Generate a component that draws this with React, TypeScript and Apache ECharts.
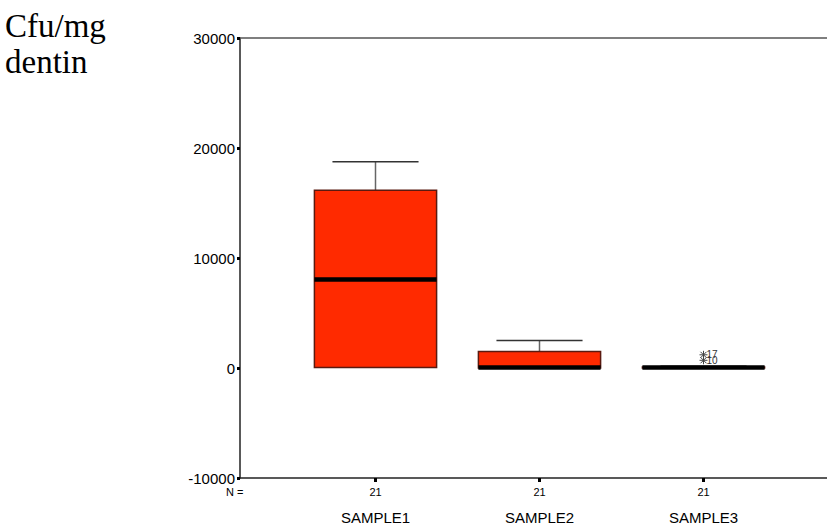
import React, { useEffect, useRef } from "react";
import * as echarts from "echarts";

const categories = ["SAMPLE1", "SAMPLE2", "SAMPLE3"];
const counts = [21, 21, 21];
// [min, q1, median, q3, max]
const boxStats = [
  [0, 50, 8050, 16150, 18750],
  [0, 0, 50, 1500, 2500],
  [0, 0, 50, 100, 150],
];
const outlierCat = [2, 2];
const outlierVal = [1200, 700];
const outlierLabel = ["17", "10"];
const yTicks = [-10000, 0, 10000, 20000, 30000];

export default function App() {
  const ref = useRef<HTMLDivElement>(null);
  useEffect(() => {
    const chart = echarts.init(ref.current!, null, { renderer: "svg" });
    const boxData = boxStats.map((s, i) => [i, ...s]);
    const outData = outlierVal.map((v, i) => [outlierCat[i], v, outlierLabel[i]]);
    const yMin = yTicks[0];
    const yMax = yTicks[yTicks.length - 1];
    const option: any = {
      animation: false,
      backgroundColor: "#fff",
      grid: [
        { left: 240, right: 0, top: 38, bottom: 49, containLabel: false },
        { left: 293.5, width: 492, top: 38, bottom: 49, containLabel: false },
      ],
      xAxis: [
        {
          gridIndex: 0, type: "value", position: "bottom", min: 0, max: 1,
          axisLine: { show: true, onZero: false, lineStyle: { color: "#222", width: 1.5 } },
          axisTick: { show: false }, axisLabel: { show: false }, splitLine: { show: false },
        },
        {
          gridIndex: 0, type: "value", position: "top", min: 0, max: 1,
          axisLine: { show: true, onZero: false, lineStyle: { color: "#555", width: 1.5 } },
          axisTick: { show: false }, axisLabel: { show: false }, splitLine: { show: false },
        },
        {
          gridIndex: 1, type: "category", position: "bottom", data: categories,
          axisLine: { show: false, onZero: false },
          axisTick: { show: true, alignWithLabel: true, length: 4, lineStyle: { color: "#000", width: 3 } },
          axisLabel: {
            margin: 8, fontSize: 11, color: "#000", fontFamily: "Arial, Liberation Sans",
            formatter: (_v: string, i: number) => String(counts[i]),
          },
        },
        {
          gridIndex: 1, type: "category", position: "bottom", data: categories,
          axisLine: { show: false, onZero: false }, axisTick: { show: false },
          axisLabel: { margin: 32, fontSize: 15, color: "#000", fontFamily: "Arial, Liberation Sans" },
        },
      ],
      yAxis: [
        {
          gridIndex: 0, type: "value", min: yMin, max: yMax, interval: 10000,
          axisLine: { show: true, onZero: false, lineStyle: { color: "#222", width: 1.5 } },
          axisTick: { show: true, length: 3, lineStyle: { color: "#000", width: 3 } },
          axisLabel: {
            margin: 5, fontSize: 15, color: "#000", fontFamily: "Arial, Liberation Sans",
            formatter: (v: number) => String(v),
          },
          splitLine: { show: false },
        },
        {
          gridIndex: 1, type: "value", min: yMin, max: yMax, show: false, splitLine: { show: false },
        },
      ],
      series: [
        {
          type: "custom", xAxisIndex: 2, yAxisIndex: 1, data: boxData,
          renderItem: (params: any, api: any) => {
            const x = api.value(0);
            const band = api.size([1, 0])[0];
            const hw = (band * 0.745) / 2;
            const cw = (band * 0.525) / 2;
            const pMin = api.coord([x, api.value(1)]);
            const pQ1 = api.coord([x, api.value(2)]);
            const pMed = api.coord([x, api.value(3)]);
            const pQ3 = api.coord([x, api.value(4)]);
            const pMax = api.coord([x, api.value(5)]);
            const cx = pMed[0];
            const children: any[] = [];
            children.push({ type: "line", shape: { x1: cx, y1: pQ3[1], x2: cx, y2: pMax[1] }, style: { stroke: "#666", lineWidth: 1.5 } });
            children.push({ type: "line", shape: { x1: cx - cw, y1: pMax[1], x2: cx + cw, y2: pMax[1] }, style: { stroke: "#333", lineWidth: 1.5 } });
            children.push({ type: "line", shape: { x1: cx, y1: pQ1[1], x2: cx, y2: pMin[1] }, style: { stroke: "#666", lineWidth: 1.5 } });
            children.push({ type: "rect", shape: { x: cx - hw, y: pQ3[1], width: hw * 2, height: pQ1[1] - pQ3[1] }, style: { fill: "#FF2A00", stroke: "#5a1a10", lineWidth: 1.5 } });
            children.push({ type: "line", shape: { x1: cx - hw, y1: pMed[1], x2: cx + hw, y2: pMed[1] }, style: { stroke: "#000", lineWidth: 4.5 } });
            return { type: "group", children };
          },
        },
        {
          type: "custom", xAxisIndex: 2, yAxisIndex: 1, data: outData,
          renderItem: (params: any, api: any) => {
            const p = api.coord([api.value(0), api.value(1)]);
            const r = 4;
            const d = r * 0.75;
            const st = { stroke: "#444", lineWidth: 1 };
            return {
              type: "group",
              children: [
                { type: "line", shape: { x1: p[0] - r, y1: p[1], x2: p[0] + r, y2: p[1] }, style: st },
                { type: "line", shape: { x1: p[0], y1: p[1] - r, x2: p[0], y2: p[1] + r }, style: st },
                { type: "line", shape: { x1: p[0] - d, y1: p[1] - d, x2: p[0] + d, y2: p[1] + d }, style: st },
                { type: "line", shape: { x1: p[0] - d, y1: p[1] + d, x2: p[0] + d, y2: p[1] - d }, style: st },
                {
                  type: "text",
                  style: {
                    text: String(outData[params.dataIndex][2]), x: p[0] + 3, y: p[1],
                    fill: "#333", fontSize: 10, fontFamily: "Arial, Liberation Sans", verticalAlign: "middle",
                  },
                },
              ],
            };
          },
        },
      ],
      graphic: [
        {
          type: "text", left: 5, top: 8,
          style: { text: "Cfu/mg\ndentin", fontSize: 33, lineHeight: 36, fontFamily: "Liberation Serif, Times New Roman, serif", fill: "#000" },
        },
        {
          type: "text", left: 226, top: 486,
          style: { text: "N =", fontSize: 11, fontFamily: "Arial, Liberation Sans", fill: "#000" },
        },
      ],
    };
    chart.setOption(option);
    return () => chart.dispose();
  }, []);
  return <div ref={ref} style={{ position: "fixed", left: 0, top: 0, width: 827, height: 527 }} />;
}
